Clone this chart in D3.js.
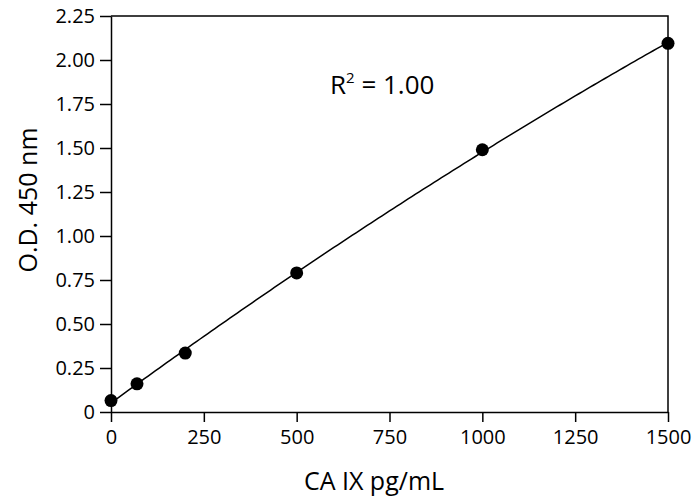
<!DOCTYPE html>
<html lang="en">
    <head>
        <meta charset="UTF-8" />
        <title>CA IX standard curve</title>
        <style>
            html,
            body {
                margin: 0;
                background: #fff;
            }
            svg text {
                font-family: "Open Sans", "Noto Sans", sans-serif;
                fill: #000;
            }
            .domain,
            .tick line {
                stroke: #000;
                stroke-width: 1.5px;
            }
        </style>
    </head>
    <body>
        <div id="chart"></div>
        <script src="https://cdn.jsdelivr.net/npm/d3@7"></script>
        <script>
            // standards (pg/mL) and their readings
            const conc = [0, 70, 200, 500, 1000, 1500];
            const od = [0.065, 0.16, 0.335, 0.79, 1.49, 2.095];
            const xTicks = [0, 250, 500, 750, 1000, 1250, 1500];
            const yTicks = [0, 0.25, 0.5, 0.75, 1.0, 1.25, 1.5, 1.75, 2.0, 2.25];

            const width = 693;
            const height = 501;
            const m = { left: 111, right: 668, top: 16, bottom: 412 };

            const svg = d3
                .select("#chart")
                .append("svg")
                .attr("width", width)
                .attr("height", height);

            const x = d3.scaleLinear().domain([0, 1500]).range([m.left, m.right]);
            const y = d3.scaleLinear().domain([0, 2.25]).range([m.bottom, m.top]);

            // frame top/right
            svg.append("path")
                .attr("d", `M${m.left},${m.top}H${m.right}V${m.bottom}`)
                .attr("fill", "none")
                .attr("stroke", "#000")
                .attr("stroke-width", 1.5);

            const xAxis = svg
                .append("g")
                .attr("transform", `translate(0,${m.bottom})`)
                .call(
                    d3.axisBottom(x)
                        .tickValues(xTicks)
                        .tickSize(10)
                        .tickSizeOuter(0)
                        .tickPadding(8)
                        .tickFormat(d3.format("d"))
                );
            xAxis.selectAll("text").style("font-size", "20px");

            const yAxis = svg
                .append("g")
                .attr("transform", `translate(${m.left},0)`)
                .call(
                    d3.axisLeft(y)
                        .tickValues(yTicks)
                        .tickSize(11)
                        .tickSizeOuter(0)
                        .tickPadding(5)
                        .tickFormat(d => (d === 0 ? "0" : d3.format(".2f")(d)))
                );
            yAxis.selectAll("text").style("font-size", "20px");

            // quadratic least squares fit through the standards
            function quadFit(xs, ys) {
                let s = [0, 0, 0, 0, 0], t = [0, 0, 0];
                xs.forEach((xi, i) => {
                    for (let k = 0; k < 5; k++) s[k] += Math.pow(xi, k);
                    for (let k = 0; k < 3; k++) t[k] += ys[i] * Math.pow(xi, k);
                });
                const a = [
                    [s[0], s[1], s[2], t[0]],
                    [s[1], s[2], s[3], t[1]],
                    [s[2], s[3], s[4], t[2]]
                ];
                for (let i = 0; i < 3; i++) {
                    for (let j = i + 1; j < 3; j++) {
                        const f = a[j][i] / a[i][i];
                        for (let k = i; k < 4; k++) a[j][k] -= f * a[i][k];
                    }
                }
                const c = [0, 0, 0];
                for (let i = 2; i >= 0; i--) {
                    let v = a[i][3];
                    for (let k = i + 1; k < 3; k++) v -= a[i][k] * c[k];
                    c[i] = v / a[i][i];
                }
                return v => c[0] + c[1] * v + c[2] * v * v;
            }

            const fit = quadFit(conc, od);
            const curve = d3.range(0, 1501, 10);

            svg.append("path")
                .datum(curve)
                .attr("fill", "none")
                .attr("stroke", "#000")
                .attr("stroke-width", 1.5)
                .attr("d", d3.line().x(d => x(d)).y(d => y(fit(d))));

            svg.selectAll(".pt")
                .data(conc)
                .enter()
                .append("circle")
                .attr("class", "pt")
                .attr("cx", d => x(d))
                .attr("cy", (d, i) => y(od[i]))
                .attr("r", 6.5)
                .attr("fill", "#000");

            const r2 = svg
                .append("text")
                .attr("x", 330)
                .attr("y", 94)
                .style("font-size", "26px");
            r2.append("tspan").text("R");
            r2.append("tspan").attr("dy", -11).style("font-size", "15px").text("2");
            r2.append("tspan").attr("dy", 11).text(" = 1.00");

            svg.append("text")
                .attr("x", 374)
                .attr("y", 490)
                .attr("text-anchor", "middle")
                .style("font-size", "25px")
                .text("CA IX pg/mL");

            svg.append("text")
                .attr("transform", "translate(37,200) rotate(-90)")
                .attr("text-anchor", "middle")
                .style("font-size", "25px")
                .text("O.D. 450 nm");
        </script>
    </body>
</html>
